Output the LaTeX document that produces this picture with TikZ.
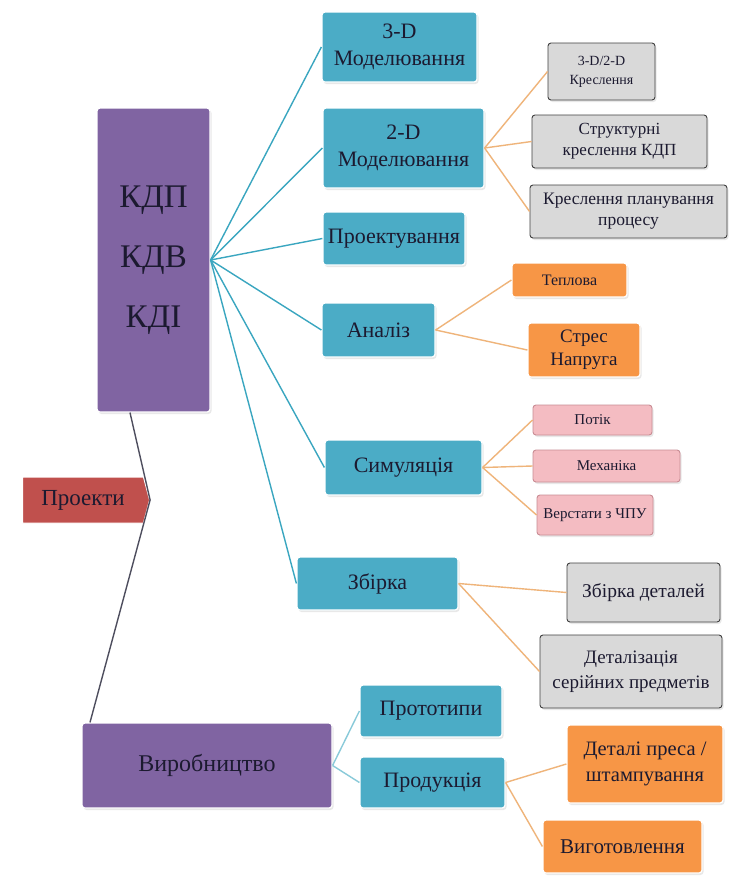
\documentclass[tikz,border=0pt]{standalone}
\usepackage{fontspec}
\setmainfont{Liberation Serif}
\usetikzlibrary{shapes.symbols,shadows}

\definecolor{cblue}{HTML}{4BACC6}
\definecolor{cpurple}{HTML}{8064A2}
\definecolor{cred}{HTML}{C0504D}
\definecolor{corange}{HTML}{F79646}
\definecolor{cgrey}{HTML}{D9D9D9}
\definecolor{cpink}{HTML}{F4BCC2}
\definecolor{cpinkline}{HTML}{C98C94}
\definecolor{ctext}{HTML}{1C1A30}
\definecolor{lteal}{HTML}{3AA6C0}
\definecolor{lorange}{HTML}{EFB47A}
\definecolor{ldark}{HTML}{4E4E5E}

\begin{document}
\begin{tikzpicture}[x=1pt,y=-1pt,
  sz/.style 2 args={minimum width=#1pt, minimum height=#2pt},
  fs/.style 2 args={font=\fontsize{#1}{#2}\selectfont},
  box/.style={rounded corners=3pt, draw=white, line width=1.2pt, inner sep=1pt,
    align=center, text=ctext,
    drop shadow={opacity=0.18, shadow xshift=1.5pt, shadow yshift=-2pt}},
  bluebox/.style={box, fill=cblue, fs={22}{27}},
  purplebox/.style={box, fill=cpurple},
  greybox/.style={box, fill=cgrey, draw=black!75, line width=0.9pt},
  orangebox/.style={box, fill=corange},
  pinkbox/.style={box, fill=cpink, draw=cpinkline, line width=0.9pt, fs={15}{18}},
  tealline/.style={draw=lteal, line width=1.4pt},
  orangeline/.style={draw=lorange, line width=1.4pt},
  darkline/.style={draw=ldark, line width=1.4pt},
]
\useasboundingbox (0,0) rectangle (729,879);
\fill[white] (0,0) rectangle (729,879);

% root branches
\node[signal, signal to=east, signal pointer angle=150, fill=cred, draw=white,
      line width=1pt, text=ctext, fs={23}{27}, sz={127}{46}, inner sep=1pt] (proekty) at (83,500) {Проекти};

\node[purplebox, sz={113}{304}, fs={33}{60}] (kdp) at (153.5,260) {КДП\\КДВ\\КДІ};
\node[purplebox, sz={250}{85}, fs={24}{28}] (vyrob) at (207,765.5) {Виробництво};

% design branch
\node[bluebox, sz={155}{70}] (m3) at (399.5,47) {3-D\\Моделювання};
\node[bluebox, sz={161}{80}] (m2) at (403.5,148) {2-D\\Моделювання};
\node[bluebox, sz={142}{53}] (proj) at (394,238.5) {Проектування};
\node[bluebox, sz={113}{54}] (anal) at (378.5,330) {Аналіз};
\node[bluebox, sz={157}{55}] (sim) at (403.5,467.5) {Симуляція};
\node[bluebox, sz={161}{53}] (zb) at (377.5,583.5) {Збірка};

% production branch
\node[bluebox, sz={142}{52}] (prot) at (431,711) {Прототипи};
\node[bluebox, sz={145}{51}] (prod) at (432.5,782.5) {Продукція};

% drawings
\node[greybox, sz={107}{57}, fs={14}{19}] (g1) at (601.5,71.5) {3-D/2-D\\Креслення};
\node[greybox, sz={175}{53}, fs={17}{21}] (g2) at (619.5,141.5) {Структурні\\креслення КДП};
\node[greybox, sz={197}{53}, fs={17.5}{21}] (g3) at (628.5,211.5) {Креслення планування\\процесу};

% analysis
\node[orangebox, sz={115}{34}, fs={16}{19}] (o1) at (569.5,280) {Теплова};
\node[orangebox, sz={112}{54}, fs={19}{23}] (o2) at (584,350) {Стрес\\Напруга};

% simulation
\node[pinkbox, sz={119}{30}] (p1) at (592.5,420) {Потік};
\node[pinkbox, sz={147}{32}] (p2) at (606.5,466) {Механіка};
\node[pinkbox, sz={116}{40}] (p3) at (595,515) {Верстати з ЧПУ};

% assembly
\node[greybox, sz={153}{59}, fs={19.5}{23}] (g4) at (643.5,592.5) {Збірка деталей};
\node[greybox, sz={182}{73}, fs={19}{25}] (g5) at (631,671.5) {Деталізація\\серійних предметів};

% products
\node[orangebox, sz={156}{78}, fs={20.5}{26}] (o3) at (645,764) {Деталі преса /\\штампування};
\node[orangebox, sz={159}{53}, fs={21}{25}] (o4) at (622.5,846.5) {Виготовлення};

% connectors
\draw[darkline] (proekty.east) -- (kdp.south -| 130,0);
\draw[darkline] (proekty.east) -- (vyrob.north -| 90,0);

\foreach \n in {m3,m2,proj,anal,sim,zb}
  \draw[tealline] (kdp.east) -- (\n.west);
\foreach \n in {prot,prod}
  \draw[tealline, draw=lteal!60] (vyrob.east) -- (\n.west);

\foreach \n in {g1,g2,g3}
  \draw[orangeline] (m2.east) -- (\n.west);
\foreach \n in {o1,o2}
  \draw[orangeline] (anal.east) -- (\n.west);
\foreach \n in {p1,p2,p3}
  \draw[orangeline] (sim.east) -- (\n.west);
\foreach \n in {g4,g5}
  \draw[orangeline] (zb.east) -- (\n.west);
\foreach \n in {o3,o4}
  \draw[orangeline] (prod.east) -- (\n.west);
\end{tikzpicture}
\end{document}
